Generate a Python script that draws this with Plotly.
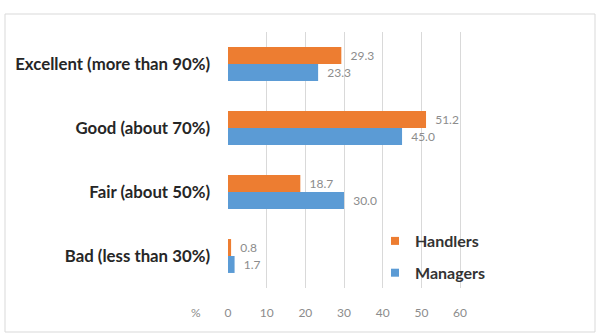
import plotly.graph_objects as go

categories = ["Bad (less than 30%)", "Fair (about 50%)", "Good (about 70%)", "Excellent (more than 90%)"]
handlers = [0.8, 18.7, 51.2, 29.3]
managers = [1.7, 30.0, 45.0, 23.3]
tick_vals = [0, 10, 20, 30, 40, 50, 60]

ORANGE = "#ED7D31"
BLUE = "#5B9BD5"

fig = go.Figure()
fig.add_trace(go.Bar(
    y=categories, x=managers, name="Managers", orientation="h", showlegend=False,
    marker=dict(color=BLUE, line=dict(width=0)),
    text=[f"  {v:.1f}" for v in managers], textposition="outside",
    textfont=dict(family="Lato", size=12, color="#8c8c8c"),
    cliponaxis=False,
))
fig.add_trace(go.Bar(
    y=categories, x=handlers, name="Handlers", orientation="h", showlegend=False,
    marker=dict(color=ORANGE, line=dict(width=0)),
    text=[f"  {v:.1f}" for v in handlers], textposition="outside",
    textfont=dict(family="Lato", size=12, color="#8c8c8c"),
    cliponaxis=False,
))
# legend entries with small square symbols
fig.add_trace(go.Scatter(x=[None], y=[None], mode="markers", name="Handlers", legendrank=1,
                         legendgroup="h", marker=dict(symbol="square", size=8, color=ORANGE)))
fig.add_trace(go.Scatter(x=[None], y=[None], mode="markers", name="Managers", legendrank=2,
                         legendgroup="m", marker=dict(symbol="square", size=8, color=BLUE)))

fig.update_layout(
    width=601, height=335,
    margin=dict(l=228, r=139, t=32, b=47),
    paper_bgcolor="white", plot_bgcolor="white",
    barmode="group", bargap=0.47, bargroupgap=0,
    showlegend=True,
    legend=dict(
        traceorder="grouped",
        x=(375 - 228) / 234, y=(288 - 257) / 256, xanchor="left", yanchor="middle",
        font=dict(family="Lato", size=16, color="#333333", weight="bold"),
        itemwidth=30, tracegroupgap=8,
        bgcolor="rgba(0,0,0,0)",
    ),
    xaxis=dict(
        range=[0, 60.5], tickvals=tick_vals,
        showgrid=True, gridcolor="#d9d9d9", gridwidth=1,
        zeroline=False, showline=False,
        tickfont=dict(family="Lato", size=12, color="#8c8c8c"),
        ticks="", ticklen=0, ticklabelstandoff=16,
    ),
    yaxis=dict(
        categoryorder="array", categoryarray=categories,
        tickfont=dict(family="Lato", size=16.8, color="#262626", weight="bold"),
        showgrid=False, zeroline=False, showline=False, ticks="", ticklabelstandoff=17,
    ),
    shapes=[dict(
        type="rect", xref="paper", yref="paper",
        x0=(5 - 228) / 234, x1=(595 - 228) / 234,
        y0=(288 - 332) / 256, y1=(288 - 14) / 256,
        line=dict(color="#d9d9d9", width=1), fillcolor="rgba(0,0,0,0)", layer="below",
    )],
    annotations=[dict(
        text="%", xref="paper", yref="paper",
        x=(196 - 228) / 234, y=(288 - 312) / 256, xanchor="center", yanchor="middle",
        showarrow=False, font=dict(family="Lato", size=12, color="#8c8c8c"),
    )],
)

fig.write_html("out.html")
